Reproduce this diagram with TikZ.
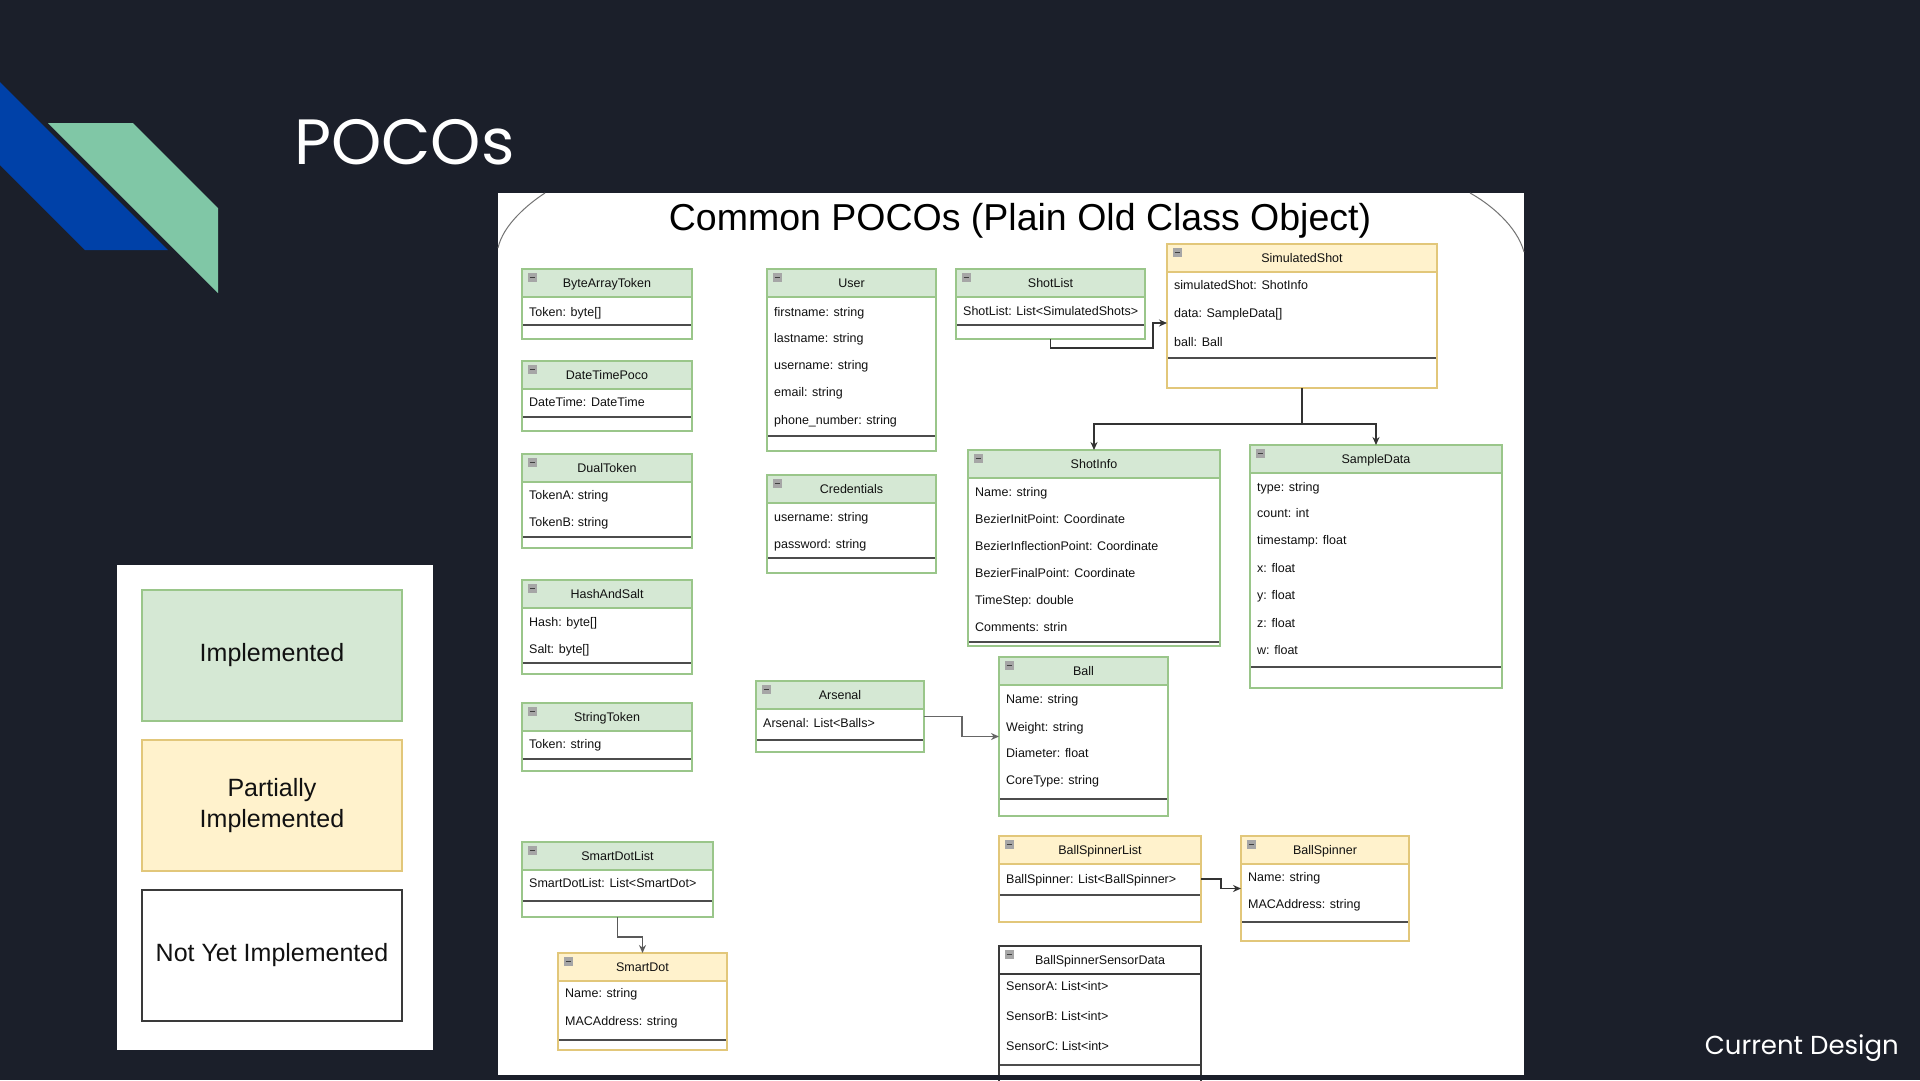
\documentclass[tikz,border=0pt]{standalone}
\usepackage{fontspec}
\setmainfont{Liberation Sans}
\newfontfamily\popfont{Poppins}
\usetikzlibrary{arrows.meta}
\definecolor{bg}{HTML}{1B1F2A}
\definecolor{decoblue}{HTML}{0041A8}
\definecolor{decogreen}{HTML}{80C7A6}
\definecolor{implfill}{HTML}{D5E8D4}
\definecolor{impledgec}{HTML}{9AC68A}
\definecolor{partfill}{HTML}{FFF2CC}
\definecolor{partedgec}{HTML}{E2C77A}
\definecolor{noneedgec}{HTML}{3A3A3A}
\definecolor{txt}{HTML}{111111}
\tikzset{
  implhead/.style={fill=implfill},
  parthead/.style={fill=partfill},
  nonehead/.style={fill=white},
  impledge/.style={draw=impledgec, line width=1.4pt},
  partedge/.style={draw=partedgec, line width=1.4pt},
  noneedge/.style={draw=noneedgec, line width=1.4pt},
  sepline/.style={draw=black!70, line width=1.4pt},
  headtext/.style={anchor=base, inner sep=0pt, text=txt, font=\fontsize{12.5}{15}\selectfont},
  attrtext/.style={anchor=base west, inner sep=0pt, text=txt, font=\fontsize{12.5}{15}\selectfont},
  icongray/.style={fill=black!35},
  iconminus/.style={draw=black!75, line width=1.2pt},
  conn/.style={draw=black!80, line width=1.4pt, -{Stealth[length=8pt,width=7pt]}},
  legbox/.style={inner sep=0pt, outer sep=0pt, anchor=north west, minimum width=260pt, minimum height=131pt, text=txt, align=center, font=\fontsize{25}{31}\selectfont},
  arcline/.style={draw=black!55, line width=1pt}
}
\newcommand\umlclass[8]{%
  \node[fill=white, inner sep=0pt, outer sep=0pt, anchor=north west, minimum width={(#4-#2)*1pt}, minimum height={(#5-#3)*1pt}] (#1) at (#2,#3) {};
  \fill[#7head] (#2,#3) rectangle (#4,#3+28);
  \draw[#7edge] (#2,#3+28) -- (#4,#3+28);
  \draw[sepline] (#2,#6) -- (#4,#6);
  \draw[#7edge] (#1.north west) rectangle (#1.south east);
  \node[headtext] at ({(#2+#4)/2},#3+18.5) {#8};
  \fill[icongray] (#2+5.5,#3+4) rectangle (#2+14.5,#3+13);
  \draw[iconminus] (#2+7.5,#3+8.5) -- (#2+12.5,#3+8.5);
}
\newcommand\attr[3]{\node[attrtext] at (#1+7,#2+4.5) {#3};}
\begin{document}
\begin{tikzpicture}[x=1pt,y=-1pt]
\useasboundingbox (0,0) rectangle (1920,1080);
\fill[bg] (0,0) rectangle (1920,1080);
% decoration
\fill[decoblue] (0,82) -- (168,250) -- (85,250) -- (0,165) -- cycle;
\fill[decogreen] (48,123) -- (133,123) -- (218,208) -- (218,293) -- cycle;
% headings
\node[anchor=base west, inner sep=0pt, text=white, font=\popfont\fontsize{64}{70}\selectfont] (pocos) at (294,164) {POCOs};
\node[anchor=base east, inner sep=0pt, text=white, font=\popfont\fontsize{26}{30}\selectfont] (current) at (1899,1054) {Current Design};
% legend
\fill[white] (117,565) rectangle (433,1050);
\node[legbox, fill=implfill, draw=impledgec, line width=1.5pt] (legimpl) at (142,590) {Implemented};
\node[legbox, fill=partfill, draw=partedgec, line width=1.5pt] (legpart) at (142,740) {Partially\\Implemented};
\node[legbox, fill=white, draw=noneedgec, line width=2.5pt] (legnone) at (142,890) {Not Yet Implemented};
% diagram panel
\fill[white] (498,193) rectangle (1524,1075);
\draw[arcline] (545,193) .. controls (528,204) and (503,225) .. (498,248);
\draw[arcline] (1470,193) .. controls (1490,204) and (1517,226) .. (1524,252);
\node[anchor=base, inner sep=0pt, text=black, font=\fontsize{37.5}{40}\selectfont] (title) at (1020,230) {Common POCOs (Plain Old Class Object)};
% classes
\umlclass{bat}{522}{269}{692}{339}{325}{impl}{ByteArrayToken}
\attr{522}{312}{Token: byte[]}
\umlclass{dtp}{522}{361}{692}{431}{417}{impl}{DateTimePoco}
\attr{522}{402}{DateTime: DateTime}
\umlclass{dual}{522}{454}{692}{548}{537}{impl}{DualToken}
\attr{522}{495}{TokenA: string}
\attr{522}{522}{TokenB: string}
\umlclass{hash}{522}{580}{692}{674}{663}{impl}{HashAndSalt}
\attr{522}{622}{Hash: byte[]}
\attr{522}{649}{Salt: byte[]}
\umlclass{strtok}{522}{703}{692}{771}{759}{impl}{StringToken}
\attr{522}{744}{Token: string}
\umlclass{sdl}{522}{842}{713}{917}{901}{impl}{SmartDotList}
\attr{522}{883}{SmartDotList: List<SmartDot>}
\umlclass{sdot}{558}{953}{727}{1050}{1040}{part}{SmartDot}
\attr{558}{993}{Name: string}
\attr{558}{1021}{MACAddress: string}
\umlclass{user}{767}{269}{936}{451}{436}{impl}{User}
\attr{767}{312}{firstname: string}
\attr{767}{338}{lastname: string}
\attr{767}{365}{username: string}
\attr{767}{392}{email: string}
\attr{767}{420}{phone\_number: string}
\umlclass{cred}{767}{475}{936}{573}{558}{impl}{Credentials}
\attr{767}{517}{username: string}
\attr{767}{544}{password: string}
\umlclass{arsenal}{756}{681}{924}{752}{740}{impl}{Arsenal}
\attr{756}{723}{Arsenal: List<Balls>}
\umlclass{shotlist}{956}{269}{1145}{339}{325}{impl}{ShotList}
\attr{956}{311}{ShotList: List<SimulatedShots>}
\umlclass{simshot}{1167}{244}{1437}{388}{358}{part}{SimulatedShot}
\attr{1167}{285}{simulatedShot: ShotInfo}
\attr{1167}{313}{data: SampleData[]}
\attr{1167}{342}{ball: Ball}
\umlclass{shotinfo}{968}{450}{1220}{646}{642}{impl}{ShotInfo}
\attr{968}{492}{Name: string}
\attr{968}{519}{BezierInitPoint: Coordinate}
\attr{968}{546}{BezierInflectionPoint: Coordinate}
\attr{968}{573}{BezierFinalPoint: Coordinate}
\attr{968}{600}{TimeStep: double}
\attr{968}{627}{Comments: strin}
\umlclass{sample}{1250}{445}{1502}{688}{667}{impl}{SampleData}
\attr{1250}{487}{type: string}
\attr{1250}{513}{count: int}
\attr{1250}{540}{timestamp: float}
\attr{1250}{568}{x: float}
\attr{1250}{595}{y: float}
\attr{1250}{623}{z: float}
\attr{1250}{650}{w: float}
\umlclass{ball}{999}{657}{1168}{816}{799}{impl}{Ball}
\attr{999}{699}{Name: string}
\attr{999}{727}{Weight: string}
\attr{999}{753}{Diameter: float}
\attr{999}{780}{CoreType: string}
\umlclass{bsl}{999}{836}{1201}{922}{895}{part}{BallSpinnerList}
\attr{999}{879}{BallSpinner: List<BallSpinner>}
\umlclass{bs}{1241}{836}{1409}{941}{922}{part}{BallSpinner}
\attr{1241}{877}{Name: string}
\attr{1241}{904}{MACAddress: string}
\umlclass{bssd}{999}{946}{1201}{1095}{1065}{none}{BallSpinnerSensorData}
\attr{999}{986}{SensorA: List<int>}
\attr{999}{1016}{SensorB: List<int>}
\attr{999}{1046}{SensorC: List<int>}
% connectors
\draw[conn] (shotlist.south) -- ++(0,9) -| ([xshift=-14pt,yshift=-7pt]simshot.west) -- ([yshift=-7pt]simshot.west);
\draw[conn] (simshot.south) -- ++(0,36) -| (shotinfo.north);
\draw[conn] (simshot.south) -- ++(0,36) -| (sample.north);
\draw[conn, draw=black!60] (arsenal.east) -- ++(38,0) |- (ball.west);
\draw[conn] (bsl.east) -- ++(20,0) |- (bs.west);
\draw[conn, draw=black!65] (sdl.south) -- ++(0,20) -| (sdot.north);
% bottom strip
\fill[bg] (0,1075) rectangle (1920,1080);
\end{tikzpicture}
\end{document}
